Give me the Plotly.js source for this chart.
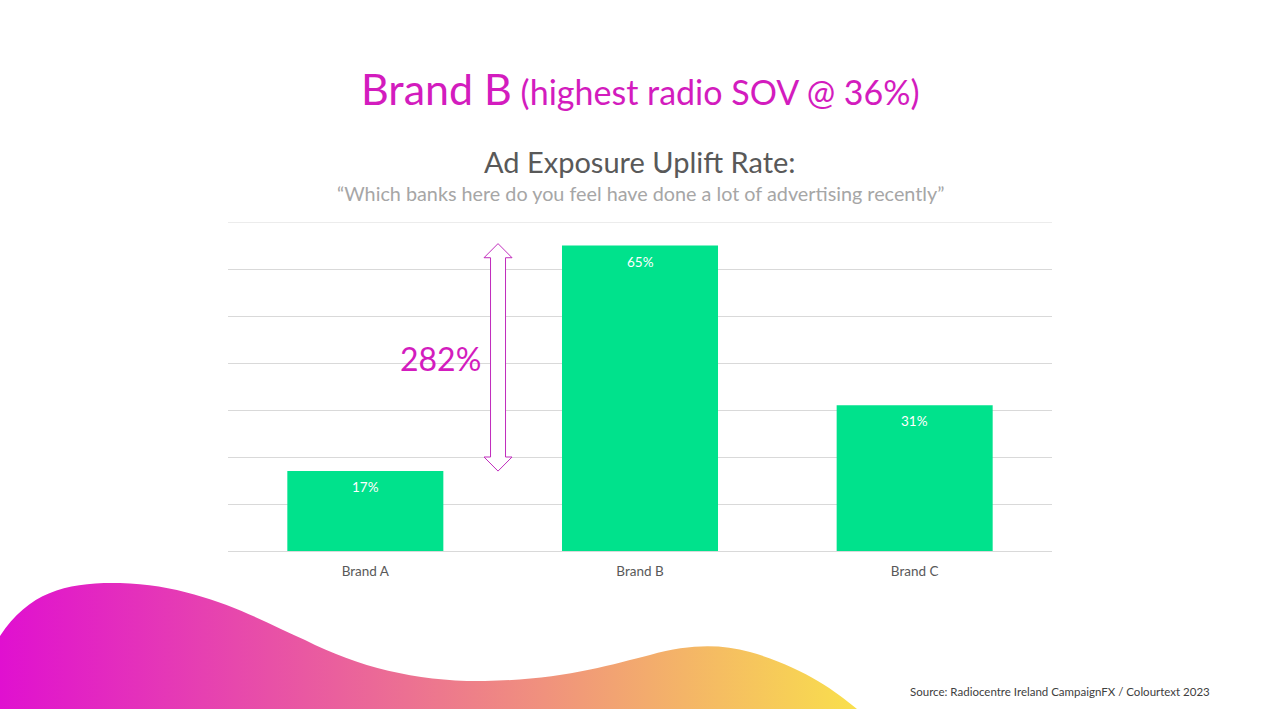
<!DOCTYPE html>
<html>
<head>
<meta charset="utf-8">
<script src="https://cdn.plot.ly/plotly-3.0.1.min.js"></script>
<style>
  html, body { margin: 0; padding: 0; background: #fff; }
  #wrap { position: relative; width: 1280px; height: 720px; overflow: hidden; }
  #wave { position: absolute; left: 0; top: 0; }
  #chart { position: absolute; left: 0; top: 0; width: 1280px; height: 720px; }
</style>
</head>
<body>
<div id="wrap">
  <svg id="wave" width="1280" height="720">
    <defs>
      <linearGradient id="grad" x1="0" y1="0" x2="860" y2="0" gradientUnits="userSpaceOnUse">
        <stop offset="0" stop-color="#e010d0"/>
        <stop offset="0.55" stop-color="#ee8088"/>
        <stop offset="1" stop-color="#f9e04c"/>
      </linearGradient>
    </defs>
    <path d="M0,636 C30,590 70,582 120,583 C200,585 260,620 305,640 C360,668 420,682 485,681 C560,680 610,665 650,655 C690,644 720,644 750,652 C800,666 835,690 857,709 L0,709 Z" fill="url(#grad)"/>
  </svg>
  <div id="chart"></div>
</div>
<script>
const brands = ["Brand A", "Brand B", "Brand C"];
const uplift = [17, 65, 31];
const barLabels = ["17%", "65%", "31%"];
const axisMax = 70;

const titleMain = "Brand B";
const titleSub = "(highest radio SOV @ 36%)";
const chartTitle = "Ad Exposure Uplift Rate:";
const question = "\u201CWhich banks here do you feel have done a lot of advertising recently\u201D";
const source = "Source: Radiocentre Ireland CampaignFX / Colourtext 2023";

const low = uplift[0], high = uplift[1];
const change = Math.round((high - low) / low * 100) + "%";

// plot area: x 228..1052, y 222..551 (px)
const py = (pix) => (551 - pix) / 329;

const trace = {
    x: brands,
    y: uplift,
    type: "bar",
    marker: { color: "#00e28c" },
    hoverinfo: "none"
};

// double-headed outline arrow between Brand A and Brand B levels
const ax = 0.3277, hw = 0.017, sw = 0.0091, hl = 3.0;
const arrowPath = [
    "M", ax, high + 0.4,
    "L", ax + hw, high + 0.4 - hl,
    "L", ax + sw, high + 0.4 - hl,
    "L", ax + sw, low + hl,
    "L", ax + hw, low + hl,
    "L", ax, low,
    "L", ax - hw, low + hl,
    "L", ax - sw, low + hl,
    "L", ax - sw, high + 0.4 - hl,
    "L", ax - hw, high + 0.4 - hl,
    "Z"
].join(" ");

const valueNotes = brands.map((b, i) => ({
    x: b, y: uplift[i], xref: "x", yref: "y",
    yshift: -16, showarrow: false,
    text: barLabels[i],
    font: { color: "#ffffff", size: 13.5 }
}));

const layout = {
    width: 1280,
    height: 720,
    paper_bgcolor: "rgba(0,0,0,0)",
    plot_bgcolor: "rgba(0,0,0,0)",
    showlegend: false,
    bargap: 0.432,
    margin: { l: 228, r: 228, t: 222, b: 169, pad: 0 },
    font: { family: "Lato, 'Open Sans', sans-serif", color: "#595959" },
    xaxis: {
        showgrid: false,
        showline: false,
        ticks: "",
        ticklabelstandoff: 10,
        tickfont: { size: 13.5, color: "#595959" },
        fixedrange: true
    },
    yaxis: {
        range: [0, axisMax],
        dtick: 10,
        showticklabels: false,
        gridcolor: "#d9d9d9",
        gridwidth: 1,
        zeroline: true,
        zerolinecolor: "#d9d9d9",
        zerolinewidth: 1,
        fixedrange: true
    },
    shapes: [
        {
            // top gridline at the axis maximum
            type: "line", xref: "paper", yref: "y",
            x0: 0, x1: 1, y0: axisMax, y1: axisMax,
            line: { color: "#d9d9d9", width: 1 },
            layer: "below"
        },
        {
            type: "path",
            xref: "paper",
            yref: "y",
            path: arrowPath,
            fillcolor: "#ffffff",
            line: { color: "#c02cbc", width: 1 }
        }
    ],
    annotations: [
        {
            xref: "paper", yref: "paper", x: 0.5, y: py(88),
            xanchor: "center", yanchor: "middle", showarrow: false,
            text: `<span style="font-size:43px">${titleMain}</span> <span style="font-size:34px">${titleSub}</span>`,
            font: { color: "#d31cbe", size: 34, family: "Lato, 'Open Sans', sans-serif" }
        },
        {
            xref: "paper", yref: "paper", x: 0.5, y: py(161),
            xanchor: "center", yanchor: "middle", showarrow: false,
            text: chartTitle,
            font: { color: "#595959", size: 29 }
        },
        {
            xref: "paper", yref: "paper", x: 0.5, y: py(193),
            xanchor: "center", yanchor: "middle", showarrow: false,
            text: question,
            font: { color: "#a6a6a6", size: 19.8 }
        },
        {
            xref: "paper", yref: "paper", x: (440 - 228) / 824, y: py(358),
            xanchor: "center", yanchor: "middle", showarrow: false,
            text: change,
            font: { color: "#d31cbe", size: 32 }
        },
        {
            xref: "paper", yref: "paper", x: (1212 - 228) / 824, y: py(691),
            xanchor: "right", yanchor: "middle", showarrow: false,
            text: source,
            font: { color: "#404040", size: 11.5 }
        }
    ].concat(valueNotes)
};

Plotly.newPlot("chart", [trace], layout, { displayModeBar: false, staticPlot: true });
</script>
</body>
</html>
